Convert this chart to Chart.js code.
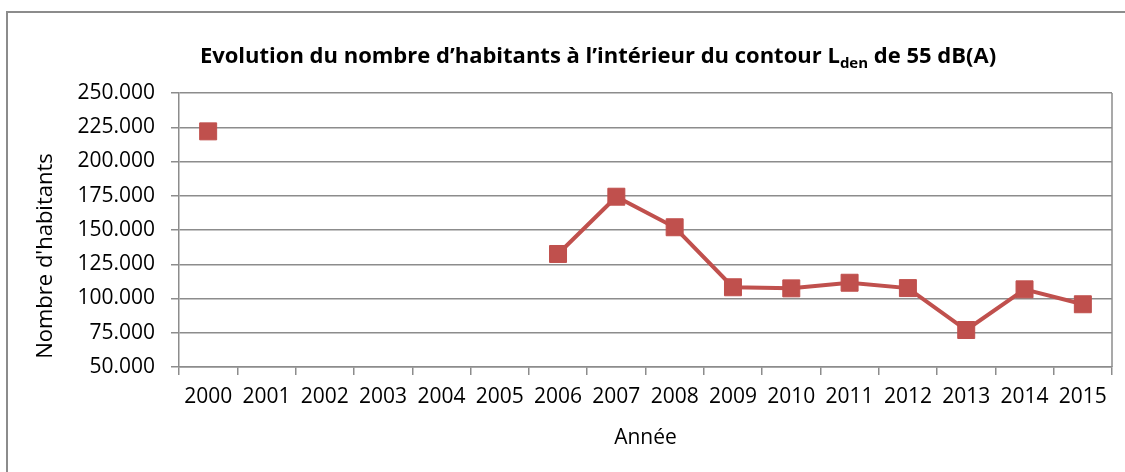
<!DOCTYPE html>
<html lang="fr">
<head>
<meta charset="utf-8">
<script src="https://cdn.jsdelivr.net/npm/chart.js@4/dist/chart.umd.min.js"></script>
<style>
  html, body { margin: 0; padding: 0; background: #fff; overflow: hidden; }
  #wrap { position: relative; width: 1125px; height: 472px; }
  #frame { position: absolute; left: 6px; top: 11px; width: 1200px; height: 600px; border: 2px solid #8c8c8c; }
  canvas { position: absolute; left: 0; top: 0; }
</style>
</head>
<body>
<div id="wrap">
  <div id="frame"></div>
  <canvas id="chart" width="1125" height="472"></canvas>
</div>
<script>
// Habitants à l'intérieur du contour Lden 55 dB(A), par année
const annees = ["2000", "2001", "2002", "2003", "2004", "2005", "2006", "2007",
                "2008", "2009", "2010", "2011", "2012", "2013", "2014", "2015"]
const habitants = [222000, null, null, null, null, null, 132500, 174300,
                   152000, 108200, 107400, 111500, 107600, 77000, 106700, 95800]
const axeYMin = 50000
const axeYMax = 250000
const axeYPas = 25000

const FONT = '"Open Sans", sans-serif'
const GRIS = "#8c8c8c"
const ROUGE = "#c0504d"

// 250000 -> "250.000"
function formatMilliers(v) {
  return String(v).replace(/\B(?=(\d{3})+(?!\d))/g, ".")
}

// Titre avec indice "den" + titre vertical de l'axe Y + bord droit du tracé
const decor = {
  id: "decor",
  afterDraw(chart) {
    const ctx = chart.ctx
    const area = chart.chartArea
    ctx.save()

    ctx.strokeStyle = GRIS
    ctx.lineWidth = 1.5
    ctx.beginPath()
    ctx.moveTo(area.right, area.top)
    ctx.lineTo(area.right, area.bottom)
    ctx.stroke()

    const morceaux = [
      { text: "Evolution du nombre d’habitants à l’intérieur du contour L", font: `bold 22px ${FONT}`, dy: 0 },
      { text: "den", font: `bold 15px ${FONT}`, dy: 5 },
      { text: " de 55 dB(A)", font: `bold 22px ${FONT}`, dy: 0 }
    ]
    let total = 0
    morceaux.forEach(m => { ctx.font = m.font; m.w = ctx.measureText(m.text).width; total += m.w })
    let x = 598 - total / 2
    ctx.fillStyle = "#000"
    ctx.textBaseline = "alphabetic"
    ctx.textAlign = "left"
    morceaux.forEach(m => {
      ctx.font = m.font
      ctx.fillText(m.text, x, 63 + m.dy)
      x += m.w
    })

    ctx.translate(46, 256)
    ctx.rotate(-Math.PI / 2)
    ctx.font = `22px ${FONT}`
    ctx.textAlign = "center"
    ctx.textBaseline = "middle"
    ctx.fillText("Nombre d'habitants", 0, 0)
    ctx.restore()
  }
}

new Chart(document.getElementById("chart"), {
  type: "line",
  data: {
    labels: annees,
    datasets: [{
      data: habitants,
      borderColor: ROUGE,
      borderWidth: 4,
      backgroundColor: ROUGE,
      pointStyle: "rect",
      pointRadius: 12,
      pointBorderWidth: 1,
      pointBorderColor: ROUGE,
      pointBackgroundColor: ROUGE,
      spanGaps: false,
      tension: 0
    }]
  },
  options: {
    responsive: false,
    animation: false,
    layout: { padding: { top: 93, right: 13, left: 0, bottom: 0 } },
    plugins: {
      legend: { display: false },
      tooltip: { enabled: false },
      title: { display: false }
    },
    scales: {
      x: {
        offset: true,
        grid: { display: true, offset: true, drawOnChartArea: false, drawTicks: true, tickLength: 8, color: GRIS, lineWidth: 1.5 },
        border: { color: GRIS, width: 1.5 },
        ticks: { color: "#000", font: { family: FONT, size: 21 }, padding: 9, maxRotation: 0, autoSkip: false },
        title: { display: true, text: "Année", color: "#000", font: { family: FONT, size: 21 }, padding: { top: 8, bottom: 21 } },
        afterFit(scale) { scale.height = 105 }
      },
      y: {
        min: axeYMin,
        max: axeYMax,
        grid: { color: GRIS, lineWidth: 1.5, tickLength: 8 },
        border: { color: GRIS, width: 1.5 },
        ticks: {
          stepSize: axeYPas,
          color: "#000",
          font: { family: FONT, size: 21 },
          padding: 16,
          callback: v => formatMilliers(v)
        },
        afterFit(scale) { scale.width = 179 }
      }
    }
  },
  plugins: [decor]
})
</script>
</body>
</html>
